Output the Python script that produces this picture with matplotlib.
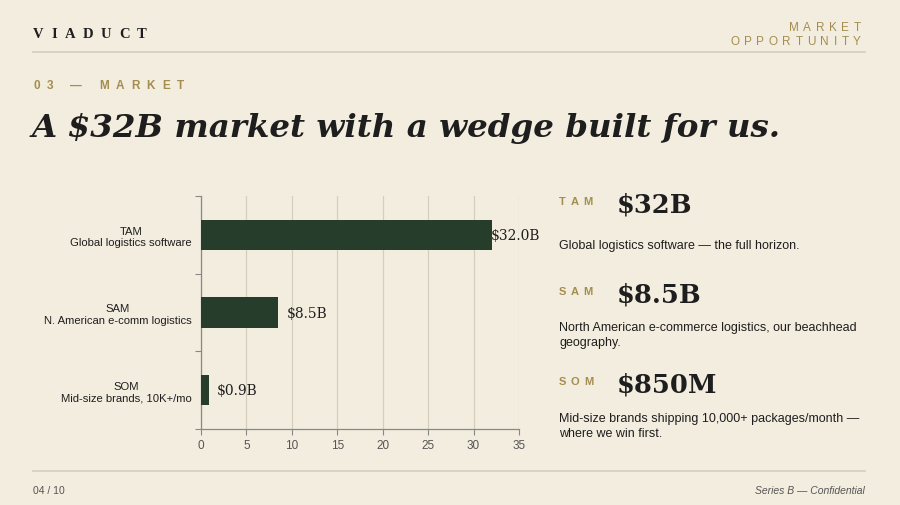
"""
Market sizing slide: TAM / SAM / SOM bar chart with a side panel of headline figures.
"""

import matplotlib
matplotlib.use('Agg')  # Non-interactive backend
import matplotlib.pyplot as plt

# Data
segments = ['TAM', 'SAM', 'SOM']
segment_desc = ['Global logistics software', 'N. American e-comm logistics', 'Mid-size brands, 10K+/mo']
market_size_b = [32.0, 8.5, 0.85]
bar_labels = ['$32.0B', '$8.5B', '$0.9B']
x_ticks = [0, 5, 10, 15, 20, 25, 30, 35]

headline_values = ['$32B', '$8.5B', '$850M']
headline_notes = [
    'Global logistics software \u2014 the full horizon.',
    'North American e-commerce logistics, our beachhead\ngeography.',
    'Mid-size brands shipping 10,000+ packages/month \u2014\nwhere we win first.',
]

# Colours
BG = '#F3EDDF'
GREEN = '#263D2C'
GOLD = '#A38D4F'
RULE = '#D6CEBD'
INK = '#1E1E1E'
GREY = '#555555'

W, H = 900, 506
SERIF = 'DejaVu Serif'
SANS = 'Liberation Sans'


def fx(px):
    return px / W


def fy(py):
    return 1 - py / H


fig = plt.figure(figsize=(9, 5.06), dpi=100, facecolor=BG)
renderer = fig.canvas.get_renderer()


def spaced_text(x, y, s, tracking, ha='left', space=4, **kw):
    """Draw letter-spaced text, one glyph at a time (x, y in pixels)."""
    widths = []
    for ch in s:
        if ch == ' ':
            widths.append(space)
            continue
        t = fig.text(0, 0, ch, **kw)
        widths.append(t.get_window_extent(renderer).width)
        t.remove()
    total = sum(widths) + tracking * (len(s) - 1)
    x0 = x - total if ha == 'right' else x
    for ch, w in zip(s, widths):
        if ch != ' ':
            fig.text(fx(x0), fy(y), ch, va='center', ha='left', **kw)
        x0 += w + tracking


# Header
spaced_text(33, 35, 'VIADUCT', 7.5, fontfamily='Liberation Serif', fontweight='bold',
            fontsize=10.5, color=INK)
spaced_text(861, 28, 'MARKET', 4.6, ha='right', fontfamily=SANS, fontsize=8.5, color=GOLD)
spaced_text(861, 42, 'OPPORTUNITY', 4.6, ha='right', fontfamily=SANS, fontsize=8.5, color=GOLD)
fig.add_artist(plt.Line2D([fx(33), fx(865)], [fy(53), fy(53)], color=RULE, linewidth=1.2))

spaced_text(33, 86, '03 \u2014 MARKET', 7.0, space=3, fontfamily=SANS, fontweight='bold',
            fontsize=8.5, color=GOLD)
fig.text(fx(32), fy(128), 'A $32B market with a wedge built for us.', fontfamily=SERIF,
         fontweight='bold', fontstyle='italic', fontsize=23.4, color=INK,
         va='center', ha='left')

# Bar chart
ax = fig.add_axes([fx(201), fy(430), fx(519 - 201), (430 - 197) / H])
ax.set_facecolor(BG)
ypos = list(range(len(segments)))
ax.barh(ypos, market_size_b, height=0.39, color=GREEN, zorder=3)
for y, v, lab in zip(ypos, market_size_b, bar_labels):
    ax.text(min(v + 0.9, 31.9), y, lab, fontfamily=SERIF, fontsize=10,
            color=INK, va='center', ha='left', zorder=4)

ax.set_xlim(0, 35)
ax.set_ylim(2.5, -0.5)
ax.set_xticks(x_ticks)
ax.set_xticklabels([str(t) for t in x_ticks], fontfamily=SANS, fontsize=8.5, color=GREY)
ax.set_yticks(ypos)
ax.set_yticklabels([f'{s}\n{d}' for s, d in zip(segments, segment_desc)],
                   fontfamily=SANS, fontsize=8.1, color=INK, ha='right',
                   multialignment='center')
ax.tick_params(axis='y', length=0, pad=6.5)
ax.set_yticks([-0.5, 0.5, 1.5, 2.5], minor=True)
ax.tick_params(axis='y', which='minor', length=4, color='#888888', width=0.8)
ax.tick_params(axis='x', length=4, color='#888888', width=0.8, pad=3)
ax.grid(True, axis='x', color=RULE, linewidth=0.9, zorder=0)
for side in ['top', 'right']:
    ax.spines[side].set_visible(False)
for side in ['left', 'bottom']:
    ax.spines[side].set_color('#888888')
    ax.spines[side].set_linewidth(0.9)

# Side panel
label_y = [202, 292, 382]
note_y = [247, 329, 420]
for seg, val, note, y0, yn in zip(segments, headline_values, headline_notes, label_y, note_y):
    spaced_text(559, y0, seg, 4.5, fontfamily=SANS, fontweight='bold',
                fontsize=8, color=GOLD)
    fig.text(fx(617), fy(y0 + 3), val, fontfamily=SERIF, fontweight='bold',
             fontsize=18.5, color=INK, va='center', ha='left')
    fig.text(fx(559), fy(yn - 7), note, fontfamily=SANS, fontsize=9,
             color=INK, va='top', ha='left', linespacing=1.3)

# Footer
fig.add_artist(plt.Line2D([fx(33), fx(865)], [fy(472), fy(472)], color=RULE, linewidth=1.2))
fig.text(fx(33), fy(491), '04 / 10', fontfamily=SANS, fontsize=7.5, color=GREY,
         va='center', ha='left')
fig.text(fx(865), fy(491), 'Series B \u2014 Confidential', fontfamily=SANS,
         fontstyle='italic', fontsize=7.5, color=GREY, va='center', ha='right')

fig.savefig('out.png', dpi=100, facecolor=BG)
